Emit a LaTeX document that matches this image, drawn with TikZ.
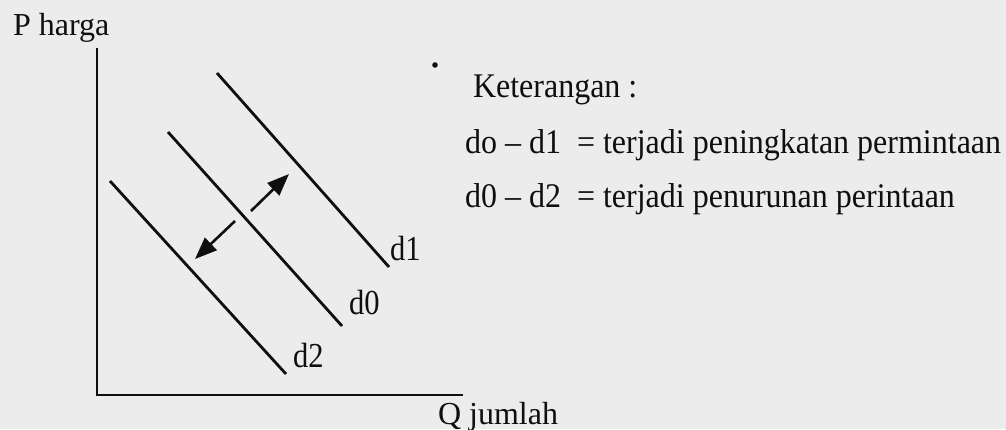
\documentclass[tikz,border=0pt]{standalone}
\usepackage{fontspec}
\setmainfont{Liberation Serif}
\usetikzlibrary{arrows.meta}
\definecolor{paper}{RGB}{236,236,236}
\definecolor{ink}{RGB}{15,15,15}
\newcommand{\tallA}[1]{\scalebox{1}[1.08]{#1}}
\newcommand{\tallB}[1]{\scalebox{1}[1.15]{#1}}
\tikzset{
  txt/.style={inner sep=0pt, outer sep=0pt, anchor=base west, text=ink, font=\fontsize{32}{38}\selectfont},
  lbl/.style={txt, font=\fontsize{30.5}{36}\selectfont},
  axisline/.style={draw=ink, line width=2.8pt},
  curve/.style={draw=ink, line width=2.8pt},
  shiftarrow/.style={draw=ink, line width=2.6pt, -{Triangle[length=22pt,width=17pt]}}
}
\begin{document}
\begin{tikzpicture}[x=1pt,y=-1pt]
\fill[paper] (0,0) rectangle (1006,429);
\useasboundingbox (0,0) rectangle (1006,429);
% axes
\coordinate (ytop) at (97,48);
\coordinate (origin) at (97,395);
\coordinate (xend) at (463,395);
\draw[axisline] (ytop) -- (origin) -- (xend);
\node[txt] (plabel) at (13,35) {P harga};
\node[txt] (qlabel) at (438,424) {Q jumlah};
% demand curves
\coordinate (d1a) at (217,73);  \coordinate (d1b) at (389,267);
\coordinate (d0a) at (168,132); \coordinate (d0b) at (342,326);
\coordinate (d2a) at (110,181); \coordinate (d2b) at (286,374);
\draw[curve] (d1a) -- (d1b);
\draw[curve] (d0a) -- (d0b);
\draw[curve] (d2a) -- (d2b);
\node[lbl] (l1) at (390,260) {\tallB{d1}};
\node[lbl] (l0) at (349,314) {\tallB{d0}};
\node[lbl] (l2) at (293,367) {\tallB{d2}};
% shift arrows
\coordinate (upa) at (251,211); \coordinate (upb) at (289,174);
\coordinate (dna) at (235,221); \coordinate (dnb) at (195,259);
\draw[shiftarrow] (upa) -- (upb);
\draw[shiftarrow] (dna) -- (dnb);
% legend
\fill[ink] (435,65) circle (2.8pt);
\node[txt] (ket) at (473,97) {\tallA{Keterangan :}};
\node[txt] (leg1) at (465,153) {\tallA{do – d1\ \ = terjadi peningkatan permintaan}};
\node[txt] (leg2) at (465,207) {\tallA{d0 – d2\ \ = terjadi penurunan perintaan}};
\end{tikzpicture}
\end{document}
